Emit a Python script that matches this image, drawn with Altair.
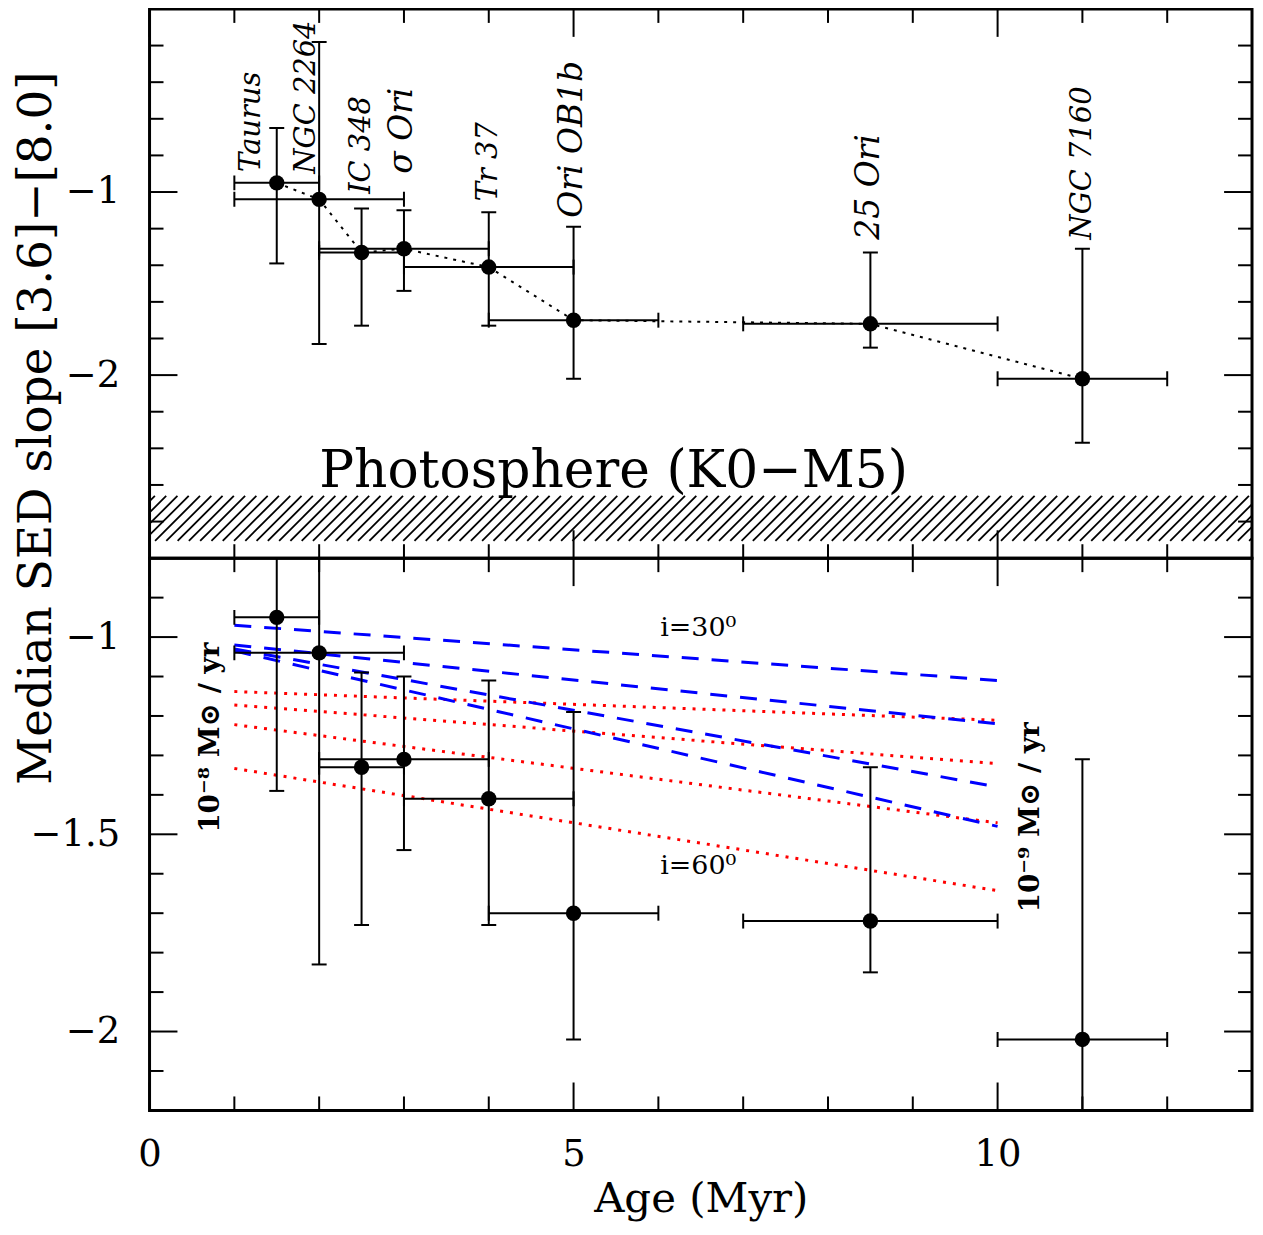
import altair as alt
import pandas as pd

# ---------------- data ----------------
names = ["Taurus", "NGC 2264", "IC 348", "σ Ori", "Tr 37", "Ori OB1b", "25 Ori", "NGC 7160"]
age = [1.5, 2.0, 2.5, 3.0, 4.0, 5.0, 8.5, 11.0]
age_lo = [1.0, 1.0, 2.0, 2.0, 3.0, 4.0, 7.0, 10.0]
age_hi = [2.0, 3.0, 3.0, 4.0, 5.0, 6.0, 10.0, 12.0]
slope = [-0.95, -1.04, -1.33, -1.31, -1.41, -1.70, -1.72, -2.02]
slope_hi = [-0.65, -0.18, -1.09, -1.10, -1.11, -1.19, -1.33, -1.31]
slope_lo = [-1.39, -1.83, -1.73, -1.54, -1.73, -2.02, -1.85, -2.37]

# cluster name annotations (data coordinates of the start of each rotated label)
label_x = [1.20, 1.85, 2.49, 2.98, 3.99, 4.985, 8.485, 11.0]
label_y = [-0.89, -0.90, -1.01, -0.90, -1.05, -1.14, -1.26, -1.26]
big_labels = ["σ Ori", "Ori OB1b", "25 Ori"]

# photosphere band
phot_lo, phot_hi = -2.905, -2.66
phot_text = ["Photosphere (K0−M5)"]
phot_x = [2.0]
phot_y = [-2.613]

# model tracks (bottom panel), from age 1 to 10 Myr
model_age = [1.0, 10.0]
blue_start = [-0.97, -1.02, -1.03, -1.035]
blue_end = [-1.11, -1.22, -1.38, -1.48]
red_start = [-1.138, -1.172, -1.222, -1.333]
red_end = [-1.211, -1.321, -1.471, -1.643]

incl_text = ["i=30⁰", "i=60⁰"]
incl_x = [6.47, 6.47]
incl_y = [-0.977, -1.581]
rate_text = ["10⁻⁸ M⊙ / yr", "10⁻⁹ M⊙ / yr"]
rate_x = [0.727, 10.395]
rate_y = [-1.255, -1.457]

# tick positions
x_major = [0, 5, 10]
x_minor = [1, 2, 3, 4, 6, 7, 8, 9, 11, 12]
top_y_major = [-1, -2]
top_y_minor = [-0.2, -0.4, -0.6, -0.8, -1.2, -1.4, -1.6, -1.8, -2.2, -2.4, -2.6, -2.8]
bot_y_major = [-1.0, -1.5, -2.0]
bot_y_minor = [-0.9, -1.1, -1.2, -1.3, -1.4, -1.6, -1.7, -1.8, -1.9, -2.1]

# ---------------- layout / style ----------------
FONT = "DejaVu Serif"
W = 1106
H_TOP = 551
H_BOT = 554
MAJ = 28
MIN = 14
BLUE = "#0000ff"
RED = "#ff0000"

xs = alt.Scale(domain=[0, 13], nice=False, zero=False)
ys_top = alt.Scale(domain=[-3, 0], nice=False, zero=False)
ys_bot = alt.Scale(domain=[-2.2, -0.8], nice=False, zero=False)

label_common = dict(labelFont=FONT, labelFontSize=37, labelColor="black",
                    labelFlush=False, ticks=False, tickSize=0, domain=False, grid=False,
                    format=".1~f")

top_yaxis = alt.Axis(values=top_y_major, labelPadding=30,
                     title="Median SED slope [3.6]−[8.0]", titleFont=FONT, titleFontSize=47,
                     titleFontWeight="normal", titleColor="black", titleAngle=270,
                     titleX=-113, titleY=420, titleAlign="center", titleBaseline="middle",
                     **label_common)
bot_yaxis = alt.Axis(values=bot_y_major, labelPadding=30, title=None, **label_common)
bot_xaxis = alt.Axis(values=x_major, labelPadding=26,
                     title="Age (Myr)", titleFont=FONT, titleFontSize=42,
                     titleFontWeight="normal", titleColor="black",
                     titleY=101, titleBaseline="alphabetic", **label_common)

df = pd.DataFrame({"name": names, "age": age, "age_lo": age_lo, "age_hi": age_hi,
                   "slope": slope, "slope_hi": slope_hi, "slope_lo": slope_lo})
df_lab = pd.DataFrame({"name": names, "lx": label_x, "ly": label_y})


class Panel:
    def __init__(self, ys, yaxis, xaxis):
        self.ys, self.yaxis, self.xaxis = ys, yaxis, xaxis

    def X(self, f):
        return alt.X(f, scale=xs, axis=self.xaxis)

    def Y(self, f):
        return alt.Y(f, scale=self.ys, axis=self.yaxis)


def frame_ticks(P, ymaj, ymin, H):
    layers = []
    for vals, L in ((x_major, MAJ), (x_minor, MIN)):
        d = pd.DataFrame({"v": vals})
        base = alt.Chart(d).mark_rule(color="black", strokeWidth=2)
        layers.append(base.encode(x=P.X("v:Q"), y=alt.value(H), y2=alt.value(H - L)))
        layers.append(base.encode(x=P.X("v:Q"), y=alt.value(0), y2=alt.value(L)))
    for vals, L in ((ymaj, MAJ), (ymin, MIN)):
        d = pd.DataFrame({"v": vals})
        base = alt.Chart(d).mark_rule(color="black", strokeWidth=2)
        layers.append(base.encode(y=P.Y("v:Q"), x=alt.value(0), x2=alt.value(L)))
        layers.append(base.encode(y=P.Y("v:Q"), x=alt.value(W - L), x2=alt.value(W)))
    return layers


def data_layers(P):
    base = alt.Chart(df)
    lw = 2
    yerr = base.mark_rule(color="black", strokeWidth=lw, clip=True).encode(
        x=P.X("age:Q"), y=P.Y("slope_lo:Q"), y2="slope_hi:Q")
    xerr = base.mark_rule(color="black", strokeWidth=lw, clip=True).encode(
        x=P.X("age_lo:Q"), x2="age_hi:Q", y=P.Y("slope:Q"))
    tick_kw = dict(size=15, thickness=lw, color="black", opacity=1, clip=True)
    capy1 = base.mark_tick(orient="horizontal", **tick_kw).encode(x=P.X("age:Q"), y=P.Y("slope_hi:Q"))
    capy2 = base.mark_tick(orient="horizontal", **tick_kw).encode(x=P.X("age:Q"), y=P.Y("slope_lo:Q"))
    capx1 = base.mark_tick(orient="vertical", **tick_kw).encode(x=P.X("age_lo:Q"), y=P.Y("slope:Q"))
    capx2 = base.mark_tick(orient="vertical", **tick_kw).encode(x=P.X("age_hi:Q"), y=P.Y("slope:Q"))
    pts = base.mark_circle(size=240, color="black", opacity=1, clip=True).encode(
        x=P.X("age:Q"), y=P.Y("slope:Q"))
    return [yerr, xerr, capy1, capy2, capx1, capx2, pts]


# ---------------- top panel ----------------
PT = Panel(ys_top, top_yaxis, None)

hatch = alt.Chart(alt.sequence(-0.6, 13.2, 0.133, as_="h")).transform_calculate(
    h2="datum.h + 0.53", lo=str(phot_lo), hi=str(phot_hi)
).mark_rule(color="black", strokeWidth=1.8, clip=True).encode(
    x=PT.X("h:Q"), x2="h2:Q", y=PT.Y("lo:Q"), y2="hi:Q")

phot = alt.Chart(pd.DataFrame({"t": phot_text, "x": phot_x, "y": phot_y})).mark_text(
    align="left", baseline="alphabetic", font=FONT, fontSize=52, color="black"
).encode(x=PT.X("x:Q"), y=PT.Y("y:Q"), text="t:N")

conn = alt.Chart(df).mark_line(color="black", strokeDash=[3, 6], strokeWidth=2).encode(
    x=PT.X("age:Q"), y=PT.Y("slope:Q"), order="age:Q")

lab_small = alt.Chart(df_lab).transform_filter(
    {"not": {"field": "name", "oneOf": big_labels}}
).mark_text(angle=270, align="left", baseline="middle", font=FONT, fontStyle="italic",
            fontSize=29, color="black").encode(
    x=PT.X("lx:Q"), y=PT.Y("ly:Q"), text="name:N")
lab_big = alt.Chart(df_lab).transform_filter(
    {"field": "name", "oneOf": big_labels}
).mark_text(angle=270, align="left", baseline="middle", font=FONT, fontStyle="italic",
            fontSize=33, color="black").encode(
    x=PT.X("lx:Q"), y=PT.Y("ly:Q"), text="name:N")

top = alt.layer(
    hatch, phot, conn, *data_layers(PT), lab_small, lab_big,
    *frame_ticks(PT, top_y_major, top_y_minor, H_TOP)
).properties(width=W, height=H_TOP)

# ---------------- bottom panel ----------------
PB = Panel(ys_bot, bot_yaxis, bot_xaxis)


def model_df(starts, ends):
    rows = []
    for i, (s, e) in enumerate(zip(starts, ends)):
        rows.append({"line": i, "age": model_age[0], "v": s})
        rows.append({"line": i, "age": model_age[1], "v": e})
    return pd.DataFrame(rows)


blue = alt.Chart(model_df(blue_start, blue_end)).mark_line(
    color=BLUE, strokeDash=[17, 13], strokeWidth=3, clip=True).encode(
    x=PB.X("age:Q"), y=PB.Y("v:Q"), detail="line:N")
red = alt.Chart(model_df(red_start, red_end)).mark_line(
    color=RED, strokeDash=[3, 7], strokeWidth=3, clip=True).encode(
    x=PB.X("age:Q"), y=PB.Y("v:Q"), detail="line:N")

incl = alt.Chart(pd.DataFrame({"t": incl_text, "x": incl_x, "y": incl_y})).mark_text(
    align="center", baseline="middle", font=FONT, fontSize=27, color="black").encode(
    x=PB.X("x:Q"), y=PB.Y("y:Q"), text="t:N")
rate = alt.Chart(pd.DataFrame({"t": rate_text, "x": rate_x, "y": rate_y})).mark_text(
    angle=270, align="center", baseline="middle", font=FONT, fontSize=28,
    fontWeight="bold", color="black").encode(
    x=PB.X("x:Q"), y=PB.Y("y:Q"), text="t:N")

bottom = alt.layer(
    red, blue, *data_layers(PB), incl, rate,
    *frame_ticks(PB, bot_y_major, bot_y_minor, H_BOT)
).properties(width=W, height=H_BOT)

chart = alt.vconcat(top, bottom, spacing=0, bounds="flush").properties(
    padding={"left": 3, "top": -4, "right": 0, "bottom": 0},
    background="white"
).configure_view(stroke="black", strokeWidth=3).configure_concat(spacing=0)

chart.save("out.html", embed_options={"renderer": "svg", "actions": False})
